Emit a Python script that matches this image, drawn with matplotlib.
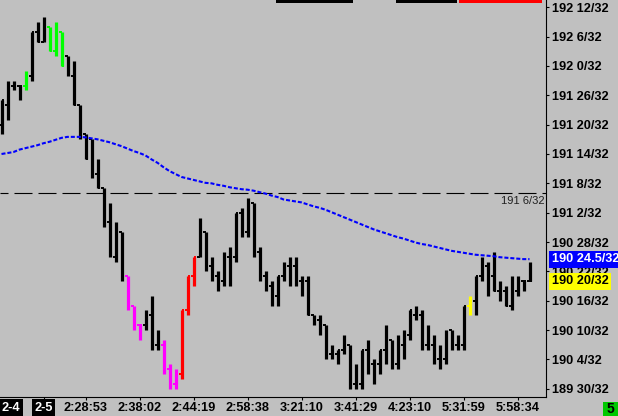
import numpy as np
import matplotlib.pyplot as plt
import matplotlib.transforms as mtransforms
from matplotlib.patches import Rectangle

plt.rcParams['font.family'] = ['Liberation Sans', 'DejaVu Sans']
plt.rcParams['lines.scale_dashes'] = False

# prices are stored as 32nds above this whole number
base = 189

opens = [84, 88, 92, 92, 92, 94, 103, 101, 104, 99, 103, 98, 94, 88, 82, 81, 74, 71, 64, 57,
         62, 53, 47, 43, 43, 45, 39, 39, 34, 31, 33, 46, 53, 57, 62, 55, 53, 52, 57, 57,
         66, 62, 68, 58, 53, 51, 49, 53, 55, 55, 52, 52, 45, 44, 43, 37, 37, 38, 39, 31,
         31, 38, 35, 35, 38, 40, 35, 39, 41, 45, 45, 39, 39, 36, 36, 42, 39, 39, 47, 48,
         53, 55, 53, 50, 50, 47, 50, 52, 52]
highs = [89, 93, 93, 92, 95, 103, 105, 106, 104, 105, 103, 98, 97, 88, 82, 81, 77, 71, 68, 64,
         62, 53, 47, 43, 46, 49, 42, 40, 35, 34, 46, 53, 57, 65, 62, 57, 54, 58, 59, 66,
         67, 69, 68, 59, 54, 52, 53, 56, 57, 57, 53, 53, 45, 45, 43, 39, 38, 41, 39, 35,
         38, 40, 36, 38, 43, 40, 41, 42, 46, 47, 46, 43, 41, 39, 42, 42, 41, 47, 49, 53,
         57, 56, 58, 52, 51, 53, 53, 52, 56]
lows = [82, 85, 91, 89, 91, 93, 101, 101, 99, 98, 96, 94, 88, 81, 77, 73, 71, 63, 57, 56,
        52, 46, 42, 40, 42, 38, 38, 33, 30, 30, 32, 45, 51, 57, 54, 52, 50, 51, 51, 56,
        61, 61, 57, 52, 50, 47, 47, 52, 51, 51, 49, 45, 43, 41, 36, 36, 35, 37, 30, 30,
        30, 33, 31, 33, 35, 34, 34, 36, 40, 44, 38, 38, 35, 34, 35, 38, 38, 38, 45, 45,
        52, 49, 50, 48, 47, 46, 49, 50, 52]
closes = [89, 92, 92, 92, 94, 103, 101, 104, 99, 103, 96, 95, 88, 82, 77, 74, 71, 64, 58, 62,
          53, 47, 43, 43, 45, 39, 39, 34, 31, 33, 46, 53, 57, 62, 55, 53, 52, 57, 57, 66,
          62, 68, 58, 53, 51, 49, 53, 55, 55, 52, 52, 45, 44, 43, 37, 37, 38, 39, 31, 31,
          38, 35, 35, 38, 40, 35, 39, 41, 46, 46, 39, 39, 36, 36, 41, 40, 39, 47, 48, 53,
          55, 53, 50, 50, 47, 50, 52, 52, 52]
moving_avg = [78.0, 78.2, 78.4, 78.9, 79.2, 79.5, 79.8, 80.2, 80.5, 80.9,
              81.3, 81.5, 81.5, 81.5, 81.4, 81.2, 81.0, 80.7, 80.4, 80.0,
              79.6, 79.1, 78.6, 78.2, 77.7, 76.9, 76.2, 75.3, 74.5, 73.9,
              73.3, 73.0, 72.7, 72.4, 72.1, 72.0, 71.7, 71.5, 71.2, 71.0,
              70.8, 70.7, 70.5, 70.2, 69.9, 69.5, 69.2, 68.7, 68.5, 68.3,
              68.1, 67.7, 67.3, 67.0, 66.6, 66.1, 65.6, 65.1, 64.6, 64.1,
              63.6, 63.1, 62.6, 62.2, 61.8, 61.4, 61.0, 60.7, 60.3, 59.9,
              59.6, 59.4, 59.1, 58.8, 58.5, 58.2, 58.0, 57.8, 57.6, 57.4,
              57.3, 57.2, 57.1, 56.9, 56.8, 56.7, 56.6, 56.5, 56.5]
ref_level = 70  # 191 6/32

green_bars = [4, 8, 9, 10]
magenta_bars = [21, 22, 23, 27, 28, 29]
red_bars = [30, 31, 32]
yellow_bars = [78]

tick_pos = [7, 14, 23, 32, 41, 50, 59, 68, 77, 86]
tick_labels = ['2-5', '2:28:53', '2:38:02', '2:44:19', '2:58:38', '3:21:10',
               '3:41:29', '4:23:10', '5:31:59', '5:58:34']


def frac_label(v):
    whole = int(v // 32)
    return f"{base + whole} {v - 32 * whole:g}/32"


bg = '#C0C0C0'
fig = plt.figure(figsize=(6.18, 4.16), dpi=100, facecolor=bg)
ax = fig.add_axes([0, 19.5 / 416, 546 / 618, 396.5 / 416])
ax.set_facecolor(bg)

x = np.arange(len(opens))
colors = ['black'] * len(x)
for i in green_bars:
    colors[i] = '#00FF00'
for i in magenta_bars:
    colors[i] = '#FF00FF'
for i in red_bars:
    colors[i] = '#FF0000'
for i in yellow_bars:
    colors[i] = '#FFFF00'

# OHLC bars
ax.vlines(x, lows, highs, colors=colors, lw=2.3, zorder=3)
ax.hlines(opens, x - 0.43, x, colors=colors, lw=1.4, zorder=3)
ax.hlines(closes, x, x + 0.43, colors=colors, lw=1.4, zorder=3)

# moving average and reference line
ax.plot(x, moving_avg, color='#0000FF', lw=1.5, dashes=(2.9, 1.4), zorder=4)
ax.axhline(ref_level, color='black', lw=0.8, linestyle=(7.2, (12.96, 4.32)), zorder=2)
ax.text(1 - 1.5 / 546, ref_level - 0.6, frac_label(ref_level),
        transform=mtransforms.blended_transform_factory(ax.transAxes, ax.transData),
        ha='right', va='top', fontsize=8, color='#202020')

ax.set_xlim(-0.25, 90.75)
ax.set_ylim(28.41, 109.49)

yt = np.arange(30, 109, 6)
ax.yaxis.tick_right()
ax.set_yticks(yt, [frac_label(v) for v in yt])
ax.set_xticks(tick_pos, tick_labels)
ax.set_xticks([1.6], ['2-4'], minor=True)
ax.tick_params(axis='y', which='major', length=2.2, width=0.8, pad=2.2,
               labelsize=9.2, labelcolor='black')
ax.tick_params(axis='x', which='major', length=2.2, width=0.8, pad=1.6,
               labelsize=9.2, labelcolor='black')
ax.tick_params(axis='x', which='minor', length=0, pad=3.8, labelsize=9.2)
for lab in ax.get_yticklabels() + ax.get_xticklabels(which='both'):
    lab.set_fontweight('bold')
    if lab.get_text() in ('2-4', '2-5'):
        lab.set_color('white')
        lab.set_bbox(dict(boxstyle='square,pad=0.2', fc='black', ec='none'))

for side in ['left', 'top']:
    ax.spines[side].set_visible(False)
for side in ['right', 'bottom']:
    ax.spines[side].set_linewidth(0.8)
    ax.spines[side].set_color('black')

# price markers on the right axis
lab_tr = mtransforms.blended_transform_factory(ax.transAxes, ax.transData)
ax.text(1 + 6 / 546, moving_avg[-1], frac_label(moving_avg[-1]), transform=lab_tr,
        ha='left', va='center', fontsize=9.2, fontweight='bold', color='white',
        bbox=dict(boxstyle='square,pad=0.2', fc='#0000FF', ec='none'),
        clip_on=False, zorder=10)
ax.text(1 + 6 / 546, closes[-1], frac_label(closes[-1]), transform=lab_tr,
        ha='left', va='center', fontsize=9.2, fontweight='bold', color='black',
        bbox=dict(boxstyle='square,pad=0.2', fc='#FFFF00', ec='none'),
        clip_on=False, zorder=10)

# bits of the toolbar and the corner box
for x0, w, c in [(276, 77, 'black'), (396, 61, 'black'), (459, 83, '#FF0000')]:
    fig.patches.append(Rectangle((x0 / 618, 413 / 416), w / 618, 3 / 416,
                                 transform=fig.transFigure, fc=c, ec='none'))
fig.patches.append(Rectangle((602.5 / 618, 0), 15.5 / 618, 14.5 / 416,
                             transform=fig.transFigure, fc='#00C800', ec='none'))
fig.text(610.5 / 618, 7 / 416, '5', ha='center', va='center', fontsize=10,
         fontweight='bold', color='black')

fig.savefig('out.png', dpi=100, facecolor=bg)
